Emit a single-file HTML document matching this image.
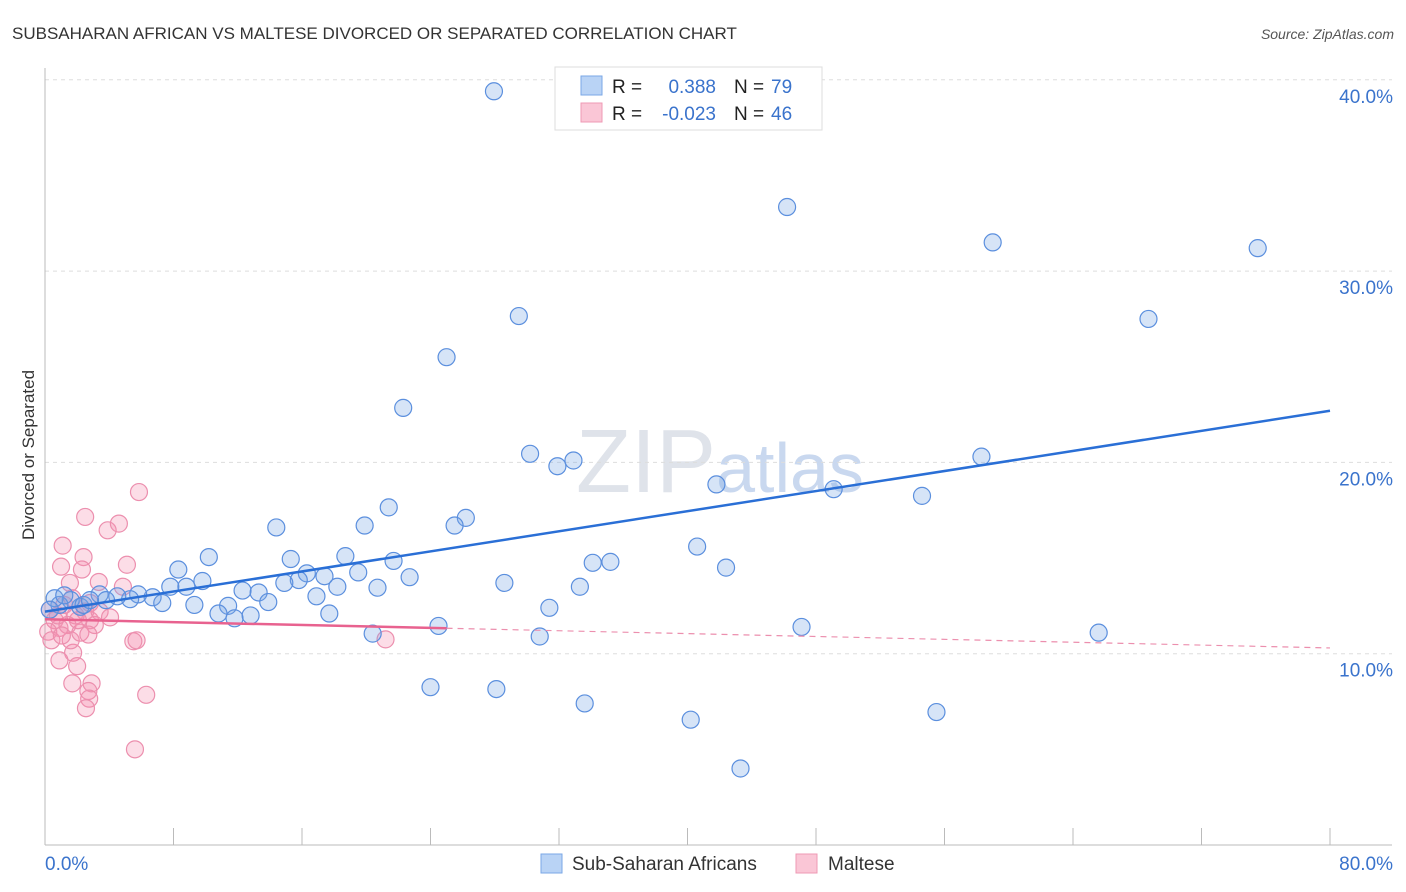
<!DOCTYPE html>
<html><head><meta charset="utf-8"><style>
body{margin:0;background:#fff;font-family:"Liberation Sans",sans-serif;}
#wrap{position:relative;width:1406px;height:892px;overflow:hidden;}
svg text{font-family:"Liberation Sans",sans-serif;}
</style></head><body><div id="wrap">
<svg id="svg" width="1406" height="892" xmlns="http://www.w3.org/2000/svg">
<text x="12" y="39" font-size="17" fill="#333">SUBSAHARAN AFRICAN VS MALTESE DIVORCED OR SEPARATED CORRELATION CHART</text>
<text x="1394" y="39" font-size="14" fill="#555" text-anchor="end" font-style="italic">Source: ZipAtlas.com</text>
<text x="34" y="455" font-size="17" fill="#333" text-anchor="middle" transform="rotate(-90 34 455)">Divorced or Separated</text>
<text x="720" y="492" font-size="90" fill="#dfe3ea" text-anchor="middle" font-family="Liberation Serif">ZIP<tspan fill="#c9d8ef" font-family="Liberation Sans" font-size="70">atlas</tspan></text>
<g id="grid"></g><g id="marks"></g>
<g>
<rect x="555" y="67" width="267" height="63" fill="#fff" stroke="#ddd"/>
<rect x="581" y="76" width="21" height="19" fill="#b9d3f5" stroke="#7aa7e6"/>
<rect x="581" y="103" width="21" height="19" fill="#fac6d6" stroke="#ef99b4"/>
<text x="612" y="93" font-size="19" fill="#222">R =</text><text x="716" y="93" font-size="19" fill="#3a73cc" text-anchor="end">0.388</text>
<text x="734" y="93" font-size="19" fill="#222">N =</text><text x="771" y="93" font-size="19" fill="#3a73cc">79</text>
<text x="612" y="120" font-size="19" fill="#222">R =</text><text x="716" y="120" font-size="19" fill="#3a73cc" text-anchor="end">-0.023</text>
<text x="734" y="120" font-size="19" fill="#222">N =</text><text x="771" y="120" font-size="19" fill="#3a73cc">46</text>
</g>
<g>
<rect x="541" y="854" width="21" height="19" fill="#b9d3f5" stroke="#7aa7e6"/>
<text x="572" y="870" font-size="19" fill="#333">Sub-Saharan Africans</text>
<rect x="796" y="854" width="21" height="19" fill="#fac6d6" stroke="#ef99b4"/>
<text x="828" y="870" font-size="19" fill="#333">Maltese</text>
</g>
</svg>
<script>
const yTicks=[10,20,30,40];
const xTickLabels=["0.0%","80.0%"];
const blueX=[27.95,46.2,59.0,75.5,68.7,29.5,25.0,22.3,30.2,31.9,32.9,58.3,41.8,49.1,54.6,21.4,26.2,25.5,19.9,14.4,40.6,10.2,15.3,18.7,21.7,34.1,35.2,8.3,42.4,19.5,22.7,17.4,16.3,15.8,14.9,9.8,8.8,7.8,28.6,33.3,18.2,20.7,12.3,13.3,16.9,13.9,11.4,9.3,6.7,7.3,5.8,5.3,4.5,3.4,3.8,2.2,1.6,0.9,0.6,31.4,17.7,10.8,11.8,12.8,24.5,47.1,20.4,30.8,65.6,24.0,28.1,33.6,40.2,55.5,43.3,2.4,0.3,1.2,2.8];
const blueY=[39.4,33.35,31.5,31.2,27.5,27.65,25.5,22.85,20.45,19.8,20.1,20.3,18.85,18.6,18.25,17.65,17.1,16.7,16.7,16.6,15.6,15.05,14.95,15.1,14.85,14.75,14.8,14.4,14.5,14.25,14.0,14.05,14.2,13.85,13.7,13.8,13.5,13.5,13.7,13.5,13.5,13.45,13.3,13.2,13.0,12.7,12.5,12.55,12.95,12.65,13.1,12.85,13.0,13.1,12.8,12.45,12.8,12.55,12.9,12.4,12.1,12.1,11.85,12.0,11.45,11.4,11.05,10.9,11.1,8.25,8.15,7.4,6.55,6.95,4.0,12.55,12.3,13.05,12.8];
const pinkX=[5.85,2.5,3.9,4.6,1.1,2.4,1.0,2.3,5.1,1.55,3.35,4.85,2.8,5.5,5.7,21.2,1.75,0.9,2.0,1.7,2.9,2.7,2.75,2.55,6.3,5.6,0.3,0.6,0.9,0.2,1.4,1.9,2.5,3.1,1.6,2.2,0.8,1.2,2.7,0.4,2.05,3.4,1.05,1.7,2.8,4.05];
const pinkY=[18.45,17.15,16.45,16.8,15.65,15.05,14.55,14.4,14.65,13.7,13.75,13.5,11.75,10.65,10.7,10.75,10.05,9.65,9.35,8.45,8.45,8.05,7.65,7.15,7.85,5.0,12.3,11.75,11.35,11.15,11.5,12.0,12.2,11.5,10.7,11.1,12.0,12.55,11.0,10.7,11.75,12.2,10.95,12.9,12.65,11.9];
const blueTrend=[12.2,22.7];
const pinkTrend=[11.8,10.3];
const NS="http://www.w3.org/2000/svg";
const X=v=>45+v/80*1285, Y=v=>845-v*19.13;
const grid=document.getElementById('grid'), marks=document.getElementById('marks');
function mk(tag,attrs,parent){const e=document.createElementNS(NS,tag);for(const k in attrs)e.setAttribute(k,attrs[k]);parent.appendChild(e);return e;}
yTicks.forEach(t=>{
 const l=mk('line',{x1:45,x2:1392,y1:Y(t),y2:Y(t),stroke:'#ddd','stroke-dasharray':'4,4'},grid);
 
 
 const tx=mk('text',{x:1393,y:Y(t)+23,'font-size':19,fill:'#3a73cc','text-anchor':'end'},grid);tx.textContent=t.toFixed(1)+'%';
 
 
});
const ax=mk('line',{x1:45,x2:45,y1:68,y2:845,stroke:'#bbb'},grid);


const bx=mk('line',{x1:45,x2:1392,y1:845,y2:845,stroke:'#bbb'},grid);


for(let i=0;i<=10;i++){const t=mk('line',{x1:X(i*8),x2:X(i*8),y1:828,y2:845,stroke:'#bbb'},grid);
 
 }
const xl0=mk('text',{x:45,y:870,'font-size':19,fill:'#3a73cc'},grid);xl0.textContent=xTickLabels[0];


const xl1=mk('text',{x:1393,y:870,'font-size':19,fill:'#3a73cc','text-anchor':'end'},grid);xl1.textContent=xTickLabels[1];


pinkX.forEach((x,i)=>{const c=mk('circle',{cx:X(x),cy:Y(pinkY[i]),r:8.5,fill:'rgba(244,143,177,0.3)',stroke:'#ec8fae','stroke-width':1.2},marks);
 
 });
blueX.forEach((x,i)=>{const c=mk('circle',{cx:X(x),cy:Y(blueY[i]),r:8.5,fill:'rgba(120,165,230,0.3)',stroke:'#5b8fde','stroke-width':1.2},marks);
 
 });
const bt=mk('line',{x1:X(0),y1:Y(blueTrend[0]),x2:X(80),y2:Y(blueTrend[1]),stroke:'#2a6fd6','stroke-width':2.5},marks);


const pm=pinkTrend[0]+(pinkTrend[1]-pinkTrend[0])*25/80;
const pt=mk('line',{x1:X(0),y1:Y(pinkTrend[0]),x2:X(25),y2:Y(pm),stroke:'#e8628f','stroke-width':2.5},marks);


const pd=mk('line',{x1:X(25),y1:Y(pm),x2:X(80),y2:Y(pinkTrend[1]),stroke:'#ec8fae','stroke-width':1.2,'stroke-dasharray':'6,5'},marks);


</script>
</div></body></html>
